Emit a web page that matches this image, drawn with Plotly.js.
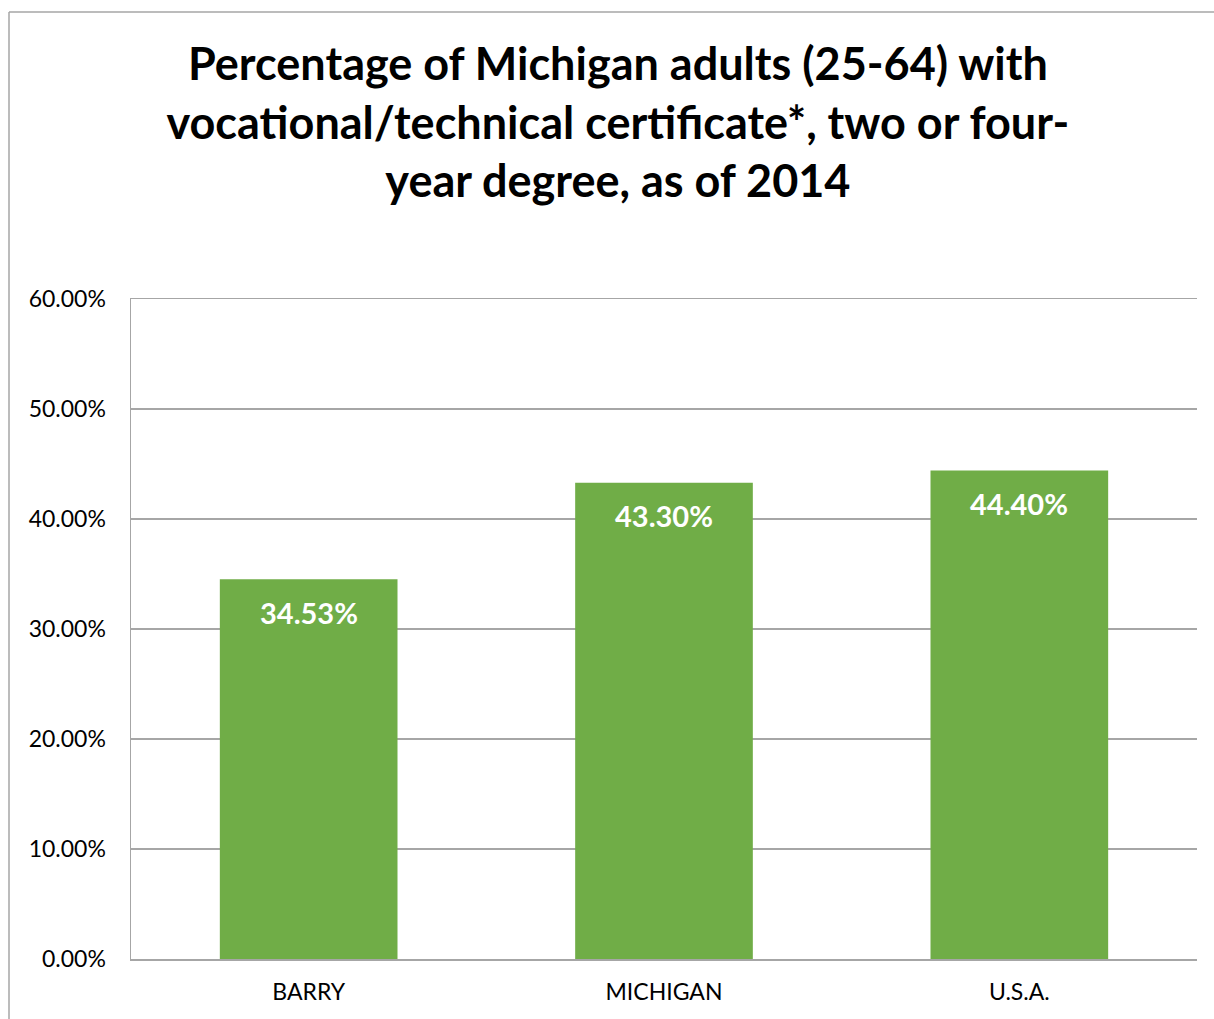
<!DOCTYPE html>
<html>
<head>
<meta charset="utf-8">
<script src="https://cdn.plot.ly/plotly-3.0.1.min.js"></script>
<style>
  html, body { margin: 0; padding: 0; background: #fff; }
  #chart { width: 1214px; height: 1019px; }
</style>
</head>
<body>
<div id="chart"></div>
<script>
const categories = ["BARRY", "MICHIGAN", "U.S.A."];
const values = [0.3453, 0.4330, 0.4440];
const valueLabels = ["34.53%", "43.30%", "44.40%"];
const yTickValues = [0, 0.1, 0.2, 0.3, 0.4, 0.5, 0.6];
const yTickLabels = ["0.00%", "10.00%", "20.00%", "30.00%", "40.00%", "50.00%", "60.00%"];
const titleText = "Percentage of Michigan adults (25-64) with<br>vocational/technical certificate*, two or four-<br>year degree, as of 2014";

const FONT = "Lato, 'Open Sans', sans-serif";

const trace = {
  type: "bar",
  x: categories,
  y: values,
  marker: { color: "#70ad47" },
  hoverinfo: "x+y"
};

const annotations = categories.map((c, i) => ({
  x: c, y: values[i], xref: "x", yref: "y",
  text: "<b>" + valueLabels[i] + "</b>",
  showarrow: false, yanchor: "middle", yshift: -33,
  font: { family: FONT, size: 29, color: "#ffffff" }
}));

const bx0 = (9 - 131) / 1066;
const by1 = (959 - 12) / 660;

const layout = {
  width: 1214, height: 1019,
  margin: { l: 131, r: 17, t: 299, b: 60 },
  paper_bgcolor: "#ffffff",
  plot_bgcolor: "#ffffff",
  showlegend: false,
  bargap: 0.5,
  title: {
    text: "<b>" + titleText + "</b>",
    x: 0.509, xanchor: "center",
    yref: "container",
    y: 1 - 80 / 1019, yanchor: "middle",
    font: { family: FONT, size: 45, color: "#000000" }
  },
  xaxis: {
    type: "category",
    showgrid: false,
    showline: true, linecolor: "#a6a6a6", linewidth: 1.5,
    mirror: true,
    ticks: "", ticklen: 0,
    ticklabelstandoff: 12,
    tickfont: { family: FONT, size: 23, color: "#000000" },
    automargin: false
  },
  yaxis: {
    range: [0, 0.6],
    tickvals: yTickValues,
    ticktext: yTickLabels,
    showgrid: true, gridcolor: "#a6a6a6", gridwidth: 1.2,
    showline: true, linecolor: "#a6a6a6", linewidth: 1.5,
    zeroline: false,
    ticks: "", ticklabelstandoff: 19,
    tickfont: { family: FONT, size: 23, color: "#000000" },
    automargin: false
  },
  annotations: annotations,
  shapes: [
    { type: "line", xref: "paper", yref: "paper", x0: bx0, x1: bx0, y0: -0.2, y1: by1,
      line: { color: "#a6a6a6", width: 1.5 }, layer: "below" },
    { type: "line", xref: "paper", yref: "paper", x0: bx0, x1: 1.2, y0: by1, y1: by1,
      line: { color: "#a6a6a6", width: 1.5 }, layer: "below" }
  ]
};

Plotly.newPlot("chart", [trace], layout, { displayModeBar: false, staticPlot: true });
</script>
</body>
</html>
